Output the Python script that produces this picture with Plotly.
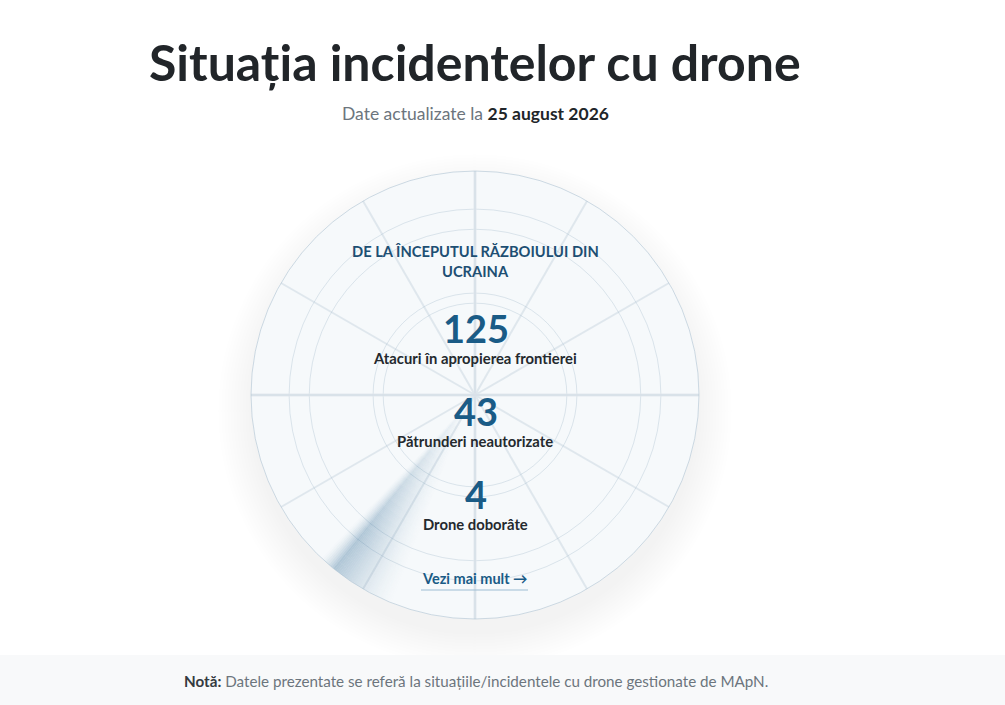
import plotly.graph_objects as go
import numpy as np

W, H = 1005, 705

# ---------------- data ----------------
title_text = "Situația incidentelor cu drone"
update_prefix = "Date actualizate la"
update_date = "25 august 2026"
section_lines = ["DE LA ÎNCEPUTUL RĂZBOIULUI DIN", "UCRAINA"]
stat_values = [125, 43, 4]
stat_labels = ["Atacuri în apropierea frontierei", "Pătrunderi neautorizate", "Drone doborâte"]
link_text = "Vezi mai mult →"
note_label = "Notă:"
note_text = "Datele prezentate se referă la situațiile/incidentele cu drone gestionate de MApN."
ring_ticks = [0.41, 0.455, 0.74, 0.83]

# ---------------- style / geometry ----------------
FONT = "Lato"
CX, CY, R = 475, 395, 224
BLUE = "#1a5b86"
DARK = "#24292e"
GRAY = "#6c757d"


def px(x):
    return x / W


def py(y):
    return 1 - y / H


fig = go.Figure()

# sweep wedge (conic + radial fade)
thetas = np.arange(201.0, 223.5, 0.5)
rsteps = np.arange(0.0, 1.0, 0.04)
th_list, r_list, base_list, col_list = [], [], [], []
for t in thetas:
    if t <= 219.0:
        a_ang = (t - 201.0) / 18.0
    else:
        a_ang = max(0.0, (223.5 - t) / 4.5)
    a_ang = a_ang ** 1.6
    for rb in rsteps:
        rm = rb + 0.02
        a_rad = min(1.0, rm / 0.8) ** 1.1
        a = 0.38 * a_ang * a_rad
        th_list.append(t)
        r_list.append(0.04)
        base_list.append(rb)
        col_list.append(f"rgba(60,115,155,{a:.3f})")
fig.add_trace(go.Barpolar(
    theta=th_list, r=r_list, base=base_list, width=0.5,
    marker=dict(color=col_list, line=dict(width=0)),
    hoverinfo="skip", showlegend=False))

# main axes cross (lighter bands)
for th in ([0, 180], [90, 270]):
    fig.add_trace(go.Scatterpolar(theta=th, r=[1, 1], mode="lines",
                                  line=dict(color="rgba(224,231,237,0.85)", width=3),
                                  hoverinfo="skip", showlegend=False))
    fig.add_trace(go.Scatterpolar(theta=th, r=[1, 1], mode="lines",
                                  line=dict(color="rgba(200,213,224,0.55)", width=1),
                                  hoverinfo="skip", showlegend=False))

# soft shadow behind the circle
shapes = []
for i, rr in enumerate(range(224, 260, 3)):
    shapes.append(dict(type="circle", xref="paper", yref="paper", layer="below",
                       x0=px(CX - rr), x1=px(CX + rr),
                       y0=py(CY + 16 + rr), y1=py(CY + 16 - rr),
                       fillcolor="rgba(0,0,0,0.0055)", line=dict(width=0)))
# footer band
shapes.append(dict(type="rect", xref="paper", yref="paper", layer="below",
                   x0=0, x1=1, y0=0, y1=py(655), fillcolor="#f8f9fa", line=dict(width=0)))
# link underline
shapes.append(dict(type="line", xref="paper", yref="paper",
                   x0=px(421), x1=px(528), y0=py(590), y1=py(590),
                   line=dict(color="#9dbdd3", width=1)))

ann = []
ann.append(dict(text=f"<b>{title_text}</b>", x=px(CX), y=py(62), font=dict(size=50, color="#212529", family=FONT)))
ann.append(dict(text=f"<span style='color:{GRAY}'>{update_prefix}</span> <b>{update_date}</b>",
                x=px(CX), y=py(113), font=dict(size=17.5, color="#212529", family=FONT)))
for i, line in enumerate(section_lines):
    ann.append(dict(text=f"<b>{line}</b>", x=px(CX), y=py(251 + 20 * i),
                    font=dict(size=14.7, color="#1d4f73", family=FONT)))
for i, (v, lab) in enumerate(zip(stat_values, stat_labels)):
    y0 = 328 + 83 * i
    ann.append(dict(text=f"<b>{v}</b>", x=px(CX + 1), y=py(y0), font=dict(size=38, color=BLUE, family=FONT)))
    ann.append(dict(text=f"<b>{lab}</b>", x=px(CX), y=py(y0 + 30), font=dict(size=14.8, color=DARK, family=FONT)))
ann.append(dict(text=f"<b>{link_text}</b>", x=px(CX), y=py(578), font=dict(size=14.5, color=BLUE, family=FONT)))
ann.append(dict(text=f"<b style='color:#343a40'>{note_label}</b> {note_text}", x=px(CX + 1), y=py(681),
                font=dict(size=15.2, color=GRAY, family=FONT)))
for a in ann:
    a.update(xref="paper", yref="paper", showarrow=False, xanchor="center", yanchor="middle")

fig.update_layout(
    width=W, height=H, margin=dict(l=0, r=0, t=0, b=0),
    paper_bgcolor="white", plot_bgcolor="white",
    showlegend=False,
    shapes=shapes, annotations=ann,
    polar=dict(
        domain=dict(x=[px(CX - R), px(CX + R)], y=[py(CY + R), py(CY - R)]),
        bgcolor="#f6f9fb",
        barmode="overlay",
        radialaxis=dict(range=[0, 1], showticklabels=False, ticks="", showline=False,
                        tickvals=ring_ticks, gridcolor="rgba(175,195,210,0.4)", gridwidth=1),
        angularaxis=dict(rotation=90, direction="clockwise", dtick=30, showticklabels=False, ticks="",
                         gridcolor="rgba(190,205,218,0.4)", gridwidth=1.5,
                         showline=True, linecolor="rgba(175,195,210,0.6)", linewidth=1),
    ),
)

fig.write_html("out.html", config={"displayModeBar": False},
               post_script="document.body.style.margin='0';document.body.style.overflow='hidden';")
